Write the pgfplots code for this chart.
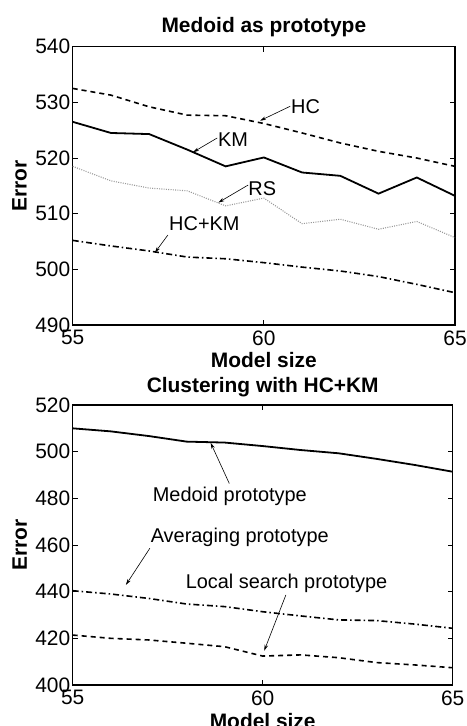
\documentclass[border=0pt]{standalone}
\usepackage{pgfplots}
\pgfplotsset{compat=1.18}
\usepackage{fontspec}
\setmainfont{Liberation Sans}
\usetikzlibrary{arrows.meta}

\newcommand\bigf{\fontsize{20}{24}\selectfont}
\tikzset{
  ann/.style={-{Stealth[length=6bp,width=3.5bp]}, line width=0.6bp},
  lbl/.style={anchor=west, inner sep=0pt, font=\bigf},
}

\pgfplotsset{
  mstyle/.style={
    scale only axis,
    /pgf/number format/assume math mode=true,
    tick label style={font=\fontsize{21}{24}\selectfont},
    tick align=inside,
    major tick length=5bp,
    axis line style={line width=1.1bp},
    every tick/.style={black, line width=0.8bp},
    xmin=55, xmax=65,
    xtick={55,60,65},
    clip=false,
    ylabel style={at={(axis description cs:-0.139,0.5)}, anchor=center, font=\fontsize{21}{24}\selectfont\bfseries},
    xlabel style={at={(axis description cs:0.5,-0.127)}, anchor=center, font=\fontsize{21}{24}\selectfont\bfseries},
    yticklabel style={xshift=1bp},
    xticklabel style={yshift=-2bp},
  },
}

\begin{document}
\begin{tikzpicture}
\useasboundingbox (0,0) rectangle (467bp,726bp);

% top panel
\begin{axis}[mstyle,
  at={(72.7bp,401bp)}, anchor=south west,
  width=382.3bp, height=278.3bp,
  ymin=490, ymax=540,
  ytick={490,500,...,540},
  title={Medoid as prototype},
  title style={at={(axis description cs:0.5,1.049)}, anchor=center, font=\fontsize{21}{24}\selectfont\bfseries},
  xlabel={Model size}, ylabel={Error},
]
\addplot[black, line width=1.6bp, dash pattern=on 5bp off 4bp] coordinates {
(55,532.5) (56,531.3) (57,529.2) (58,527.7) (59,527.6) (60,526.2)
(61,524.5) (62,522.7) (63,521.2) (64,520.0) (65,518.5)};
\addplot[black, line width=1.8bp] coordinates {
(55,526.5) (56,524.5) (57,524.3) (58,521.5) (59,518.5) (60,520.1)
(61,517.4) (62,516.8) (63,513.6) (64,516.5) (65,513.2)};
\addplot[black!40, line width=1.1bp, dash pattern=on 1bp off 1.3bp] coordinates {
(55,518.5) (56,515.9) (57,514.6) (58,514.1) (59,511.4) (60,512.8)
(61,508.2) (62,509.0) (63,507.2) (64,508.6) (65,505.7)};
\addplot[black, line width=1.6bp, dash pattern=on 6bp off 3bp on 1.5bp off 3bp] coordinates {
(55,505.2) (56,504.2) (57,503.3) (58,502.2) (59,501.9) (60,501.2)
(61,500.4) (62,499.7) (63,498.7) (64,497.3) (65,495.8)};

\node[lbl] at (axis cs:60.71,529.17) {HC};
\draw[ann] (axis cs:60.69,529.3) -- (axis cs:59.90,526.7);
\node[lbl] at (axis cs:58.80,523.24) {KM};
\draw[ann] (axis cs:58.78,523.6) -- (axis cs:58.15,521.05);
\node[lbl] at (axis cs:59.59,514.56) {RS};
\draw[ann] (axis cs:59.59,515.15) -- (axis cs:58.81,512.0);
\node[lbl] at (axis cs:57.52,508.27) {HC+KM};
\draw[ann] (axis cs:57.49,506.17) -- (axis cs:57.15,503.0);
\end{axis}

% bottom panel
\begin{axis}[mstyle,
  at={(72.7bp,41bp)}, anchor=south west,
  width=380bp, height=280bp,
  ymin=400, ymax=520,
  ytick={400,420,...,520},
  title={Clustering with HC+KM},
  title style={at={(axis description cs:0.5,1.042)}, anchor=center, font=\fontsize{21}{24}\selectfont\bfseries},
  xlabel={Model size}, ylabel={Error},
]
\addplot[black, line width=1.8bp] coordinates {
(55,510.0) (56,508.7) (57,506.7) (58,504.3) (59,503.9) (60,502.4)
(61,500.7) (62,499.3) (63,496.9) (64,494.3) (65,491.4)};
\addplot[black, line width=1.6bp, dash pattern=on 6bp off 3bp on 1.5bp off 3bp] coordinates {
(55,440.4) (56,439.0) (57,437.1) (58,434.7) (59,433.6) (60,431.4)
(61,429.6) (62,427.9) (63,427.6) (64,426.1) (65,424.3)};
\addplot[black, line width=1.6bp, dash pattern=on 5bp off 4bp] coordinates {
(55,421.4) (56,420.0) (57,419.3) (58,417.9) (59,416.4) (60,412.4)
(61,412.9) (62,411.7) (63,409.6) (64,408.6) (65,407.4)};

\node[lbl] at (axis cs:57.105,480.7) {Medoid prototype};
\draw[ann] (axis cs:59.12,486.4) -- (axis cs:58.63,503.8);
\node[lbl] at (axis cs:57.05,463.4) {Averaging prototype};
\draw[ann] (axis cs:57.03,458.6) -- (axis cs:56.40,442.9);
\node[lbl] at (axis cs:57.97,443.6) {Local search prototype};
\draw[ann] (axis cs:60.61,438.6) -- (axis cs:60.04,414.7);
\end{axis}
\end{tikzpicture}
\end{document}
